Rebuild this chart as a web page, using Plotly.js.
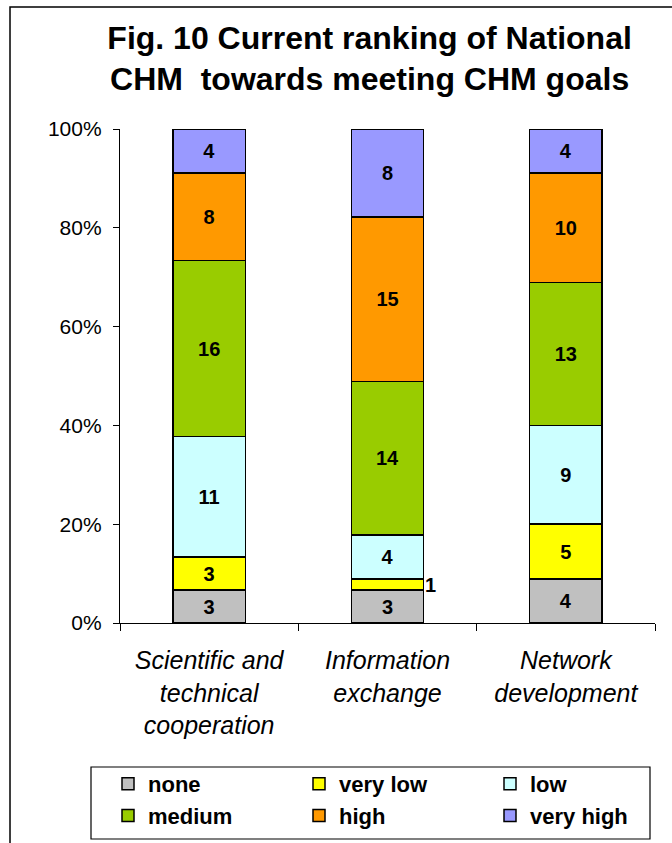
<!DOCTYPE html>
<html>
<head>
<meta charset="utf-8">
<script src="https://cdn.plot.ly/plotly-3.0.1.min.js"></script>
<style>html,body{margin:0;padding:0;background:#fff;}#chart{width:672px;height:843px;}</style>
</head>
<body>
<div id="chart"></div>
<script>
const categories = ["Scientific and<br>technical<br>cooperation", "Information<br>exchange", "Network<br>development"];
const seriesNames = ["none", "very low", "low", "medium", "high", "very high"];
const noneVals = [3, 3, 4];
const veryLowVals = [3, 1, 5];
const lowVals = [11, 4, 9];
const mediumVals = [16, 14, 13];
const highVals = [8, 15, 10];
const veryHighVals = [4, 8, 4];
const colors = ["#C0C0C0", "#FFFF00", "#CCFFFF", "#99CC00", "#FF9900", "#9999FF"];
const yTicks = [0, 20, 40, 60, 80, 100];

const allVals = [noneVals, veryLowVals, lowVals, mediumVals, highVals, veryHighVals];
const totals = categories.map((c, i) => allVals.reduce((s, arr) => s + arr[i], 0));

const FAM = "Liberation Sans, Arial, sans-serif";
const labelFont = {family: FAM, size: 20, color: "#000", weight: "bold"};

const traces = allVals.map((vals, k) => ({
  type: "bar",
  name: seriesNames[k],
  x: categories,
  y: vals,
  marker: {color: colors[k], line: {color: "#000", width: 1.5}},
  text: vals.map(v => v < 2 ? "" : String(v)),
  textposition: "inside",
  insidetextanchor: "middle",
  textangle: 0,
  constraintext: "none",
  textfont: labelFont,
  hoverinfo: "none"
}));

// annotations for segments too small to hold their label
const annotations = [];
categories.forEach((c, i) => {
  let cum = 0;
  allVals.forEach((vals) => {
    const v = vals[i];
    if (v < 2) {
      annotations.push({
        x: c, y: (cum + v / 2) / totals[i] * 100,
        xref: "x", yref: "y",
        text: String(v), showarrow: false,
        xshift: 43, font: labelFont
      });
    }
    cum += v;
  });
});

const layout = {
  width: 672, height: 843,
  margin: {l: 120, r: 17, t: 129, b: 220, autoexpand: false},
  paper_bgcolor: "#fff", plot_bgcolor: "#fff",
  barmode: "stack",
  barnorm: "percent",
  bargap: 0.595,
  showlegend: true,
  title: {
    text: "<b>Fig. 10 Current ranking of National<br>CHM  towards meeting CHM goals</b>",
    font: {family: FAM, size: 32, color: "#000"},
    x: 0.55, xref: "container", xanchor: "center",
    y: 0.942, yref: "container", yanchor: "top"
  },
  xaxis: {
    type: "category",
    showline: true, linecolor: "#000", linewidth: 1.2,
    ticks: "outside", tickson: "boundaries", ticklen: 7, tickcolor: "#000",
    ticklabelstandoff: 15,
    tickfont: {family: FAM, size: 25, color: "#000", style: "italic"},
    showgrid: false, zeroline: false, fixedrange: true
  },
  yaxis: {
    range: [0, 100],
    tickvals: yTicks,
    ticktext: yTicks.map(t => t + "%"),
    showline: true, linecolor: "#000", linewidth: 1.2,
    ticks: "outside", ticklen: 6, tickcolor: "#000",
    ticklabelstandoff: 7,
    tickfont: {family: FAM, size: 21, color: "#000"},
    showgrid: false, zeroline: false, fixedrange: true
  },
  legend: {
    orientation: "h",
    x: (108 - 120) / 535, xanchor: "left",
    y: (623 - 763) / 494, yanchor: "top",
    xref: "paper", yref: "paper",
    borderwidth: 0, bgcolor: "rgba(0,0,0,0)",
    entrywidth: 146, entrywidthmode: "pixels",
    traceorder: "normal",
    font: {family: FAM, size: 22, color: "#000", weight: "bold"}
  },
  annotations: annotations,
  shapes: [{
    type: "rect", xref: "paper", yref: "paper",
    x0: -0.2056, x1: 1.3, y0: -0.6, y1: 1.247,
    line: {color: "#000", width: 1.5}, fillcolor: "rgba(0,0,0,0)", layer: "below"
  }, {
    type: "rect", xref: "paper", yref: "paper",
    x0: (91 - 120) / 535, x1: (650 - 120) / 535,
    y0: (623 - 839) / 494, y1: (623 - 767) / 494,
    line: {color: "#000", width: 1.2}, fillcolor: "rgba(0,0,0,0)", layer: "below"
  }]
};

Plotly.newPlot("chart", traces, layout, {displayModeBar: false, staticPlot: true});
</script>
</body>
</html>
